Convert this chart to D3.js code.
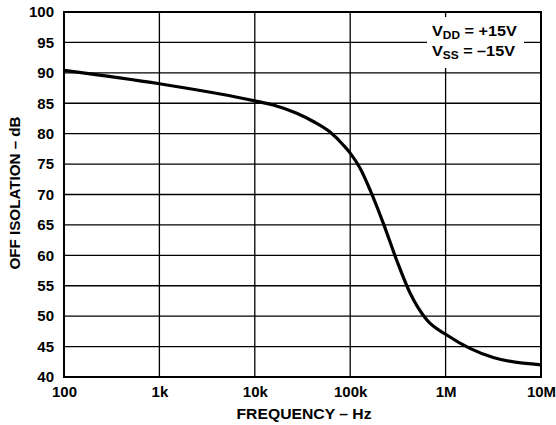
<!DOCTYPE html>
<html><head><meta charset="utf-8">
<script src="https://cdn.jsdelivr.net/npm/d3@7"></script>
<style>
body{margin:0;background:#fff;}
svg{display:block;font-family:"Liberation Sans",Arial,sans-serif;font-weight:bold;}
</style></head>
<body><svg id="c" width="556" height="425"></svg>
<script>
const freqs = [100, 1000, 10000, 15600, 27500, 41000, 61000, 85000, 100000, 127000, 161000, 222000, 307000, 424000, 634000, 1030000, 1800000, 3160000, 10000000];
const isolation = [90.4, 88.2, 85.4, 84.7, 83.35, 82.0, 80.3, 78.1, 76.8, 74.3, 70.8, 65.3, 59.2, 53.8, 49.4, 46.9, 44.7, 43.2, 42.0];
const xTicks = [100, 1e3, 1e4, 1e5, 1e6, 1e7];
const xTickLabels = ["100", "1k", "10k", "100k", "1M", "10M"];
const yTicks = [40, 45, 50, 55, 60, 65, 70, 75, 80, 85, 90, 95, 100];

const svg = d3.select("#c");
const L = 64, R = 541, T = 12, B = 377;
const x = d3.scaleLog().domain([100, 1e7]).range([L, R]);
const y = d3.scaleLinear().domain([40, 100]).range([B, T]);

// grid
svg.append("g").selectAll("line").data(yTicks).join("line")
  .attr("x1", L).attr("x2", R).attr("y1", d => y(d)).attr("y2", d => y(d))
  .attr("stroke", "#000").attr("stroke-width", 1.3);
svg.append("g").selectAll("line").data(xTicks).join("line")
  .attr("y1", T).attr("y2", B).attr("x1", d => x(d)).attr("x2", d => x(d))
  .attr("stroke", "#000").attr("stroke-width", 1.3);

// legend box (white mask)
svg.append("rect").attr("x", 427).attr("y", 17).attr("width", 97).attr("height", 51).attr("fill", "#fff");
const lg = svg.append("g").attr("font-size", 15).attr("fill", "#000")
  .attr("transform", "translate(432,0) scale(1.08,1) translate(-432,0)");
const t1 = lg.append("text").attr("x", 432).attr("y", 36);
t1.append("tspan").text("V");
t1.append("tspan").attr("font-size", 11).attr("dy", 3).text("DD");
t1.append("tspan").attr("dy", -3).text(" = +15V");
const t2 = lg.append("text").attr("x", 432).attr("y", 56);
t2.append("tspan").text("V");
t2.append("tspan").attr("font-size", 11).attr("dy", 3).text("SS");
t2.append("tspan").attr("dy", -3).text(" = \u201315V");

// frame
svg.append("rect").attr("x", L).attr("y", T).attr("width", R - L).attr("height", B - T)
  .attr("fill", "none").attr("stroke", "#000").attr("stroke-width", 2);

// curve
const line = d3.line().x((d, i) => x(freqs[i])).y(d => y(d)).curve(d3.curveMonotoneX);
svg.append("path").datum(isolation).attr("d", line)
  .attr("fill", "none").attr("stroke", "#000").attr("stroke-width", 3.2);

// axes
const xa = svg.append("g").attr("transform", `translate(0,${B})`)
  .call(d3.axisBottom(x).tickValues(xTicks).tickFormat((d, i) => xTickLabels[i]).tickSize(0).tickPadding(9));
const ya = svg.append("g").attr("transform", `translate(${L},0)`)
  .call(d3.axisLeft(y).tickValues(yTicks).tickSize(0).tickPadding(10));
[xa, ya].forEach(a => {
  a.select(".domain").remove();
  a.selectAll("text").attr("font-size", 15).attr("font-family", "Liberation Sans, Arial, sans-serif")
    .attr("font-weight", "bold").attr("fill", "#000");
});

svg.append("text").attr("x", 304).attr("y", 419).attr("text-anchor", "middle")
  .attr("font-size", 15).attr("textLength", 135).attr("lengthAdjust", "spacingAndGlyphs")
  .text("FREQUENCY \u2013 Hz");
svg.append("text").attr("transform", `translate(20,193) rotate(-90)`).attr("text-anchor", "middle")
  .attr("font-size", 14.5).attr("textLength", 153).attr("lengthAdjust", "spacingAndGlyphs")
  .text("OFF ISOLATION \u2013 dB");
</script></body></html>
